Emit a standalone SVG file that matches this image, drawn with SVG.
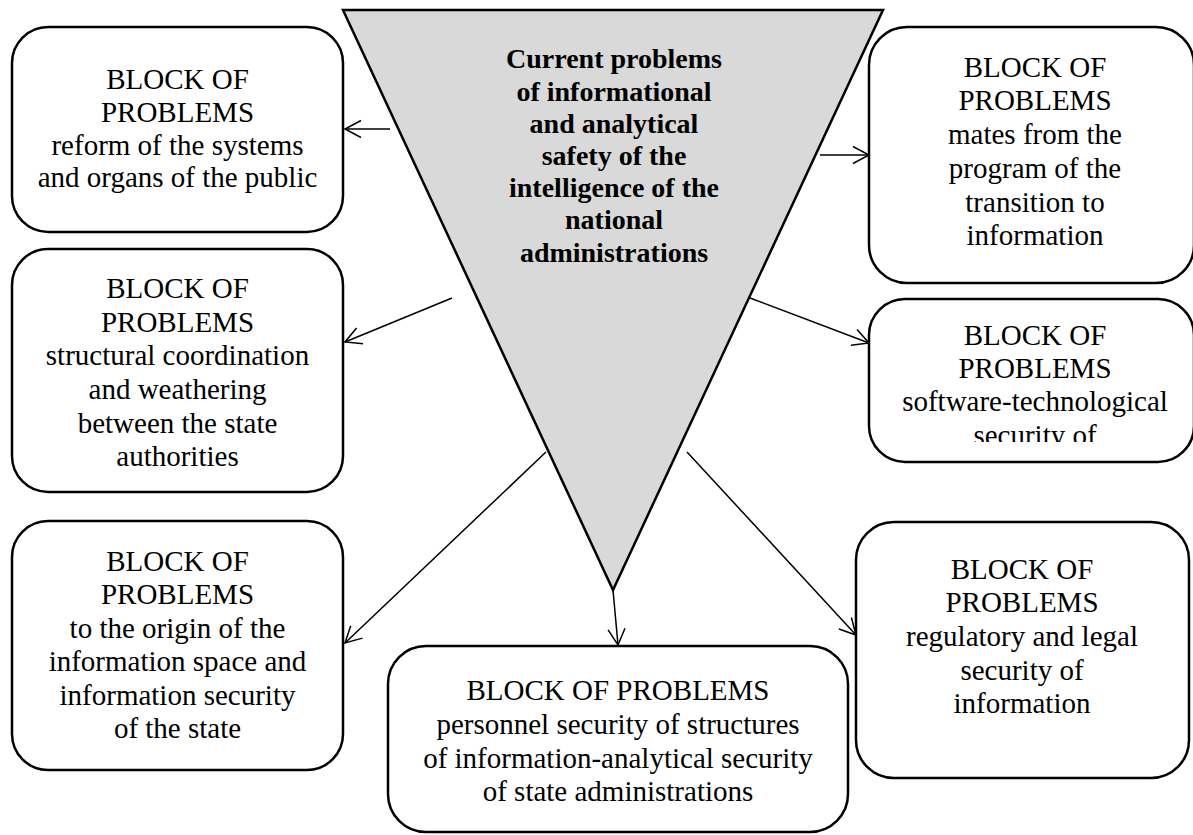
<svg xmlns="http://www.w3.org/2000/svg" width="1193" height="835" viewBox="0 0 1193 835">
  <style>
    .box { fill: #ffffff; stroke: #000000; stroke-width: 2.5; }
    .tri { fill: #d9d9d9; stroke: #000000; stroke-width: 2.5; stroke-linejoin: miter; }
    .t { font-family: "Liberation Serif", "Times New Roman", serif; font-size: 29px; fill: #000000; text-anchor: middle; }
    .tb { font-family: "Liberation Serif", "Times New Roman", serif; font-size: 28px; font-weight: bold; fill: #000000; text-anchor: middle; }
    .conn line { stroke: #000000; stroke-width: 1.5; fill: none; marker-end: url(#arr); }
  </style>
  <defs>
    <marker id="arr" markerWidth="20" markerHeight="20" refX="17" refY="10" orient="auto" markerUnits="userSpaceOnUse">
      <path d="M1,1.5 L17,10 L1,18.5" fill="none" stroke="#000000" stroke-width="1.5"/>
    </marker>
    <clipPath id="clipMR">
      <rect x="869" y="299" width="330" height="143"/>
    </clipPath>
  </defs>
  <rect width="1193" height="835" fill="#ffffff"/>

  <g id="center">
    <polygon class="tri" points="343,10 883,10 613,590"/>
    <text class="tb" x="614" y="68">Current problems</text>
    <text class="tb" x="614" y="101">of informational</text>
    <text class="tb" x="614" y="133">and analytical</text>
    <text class="tb" x="614" y="165">safety of the</text>
    <text class="tb" x="614" y="197">intelligence of the</text>
    <text class="tb" x="614" y="229">national</text>
    <text class="tb" x="614" y="262">administrations</text>
  </g>

  <g id="conn" class="conn">
    <line x1="390" y1="129" x2="345" y2="129"/>
    <line x1="820" y1="155" x2="869" y2="155"/>
    <line x1="452" y1="298" x2="345" y2="342"/>
    <line x1="750" y1="298" x2="869" y2="343"/>
    <line x1="546" y1="452" x2="345" y2="643"/>
    <line x1="687" y1="452" x2="856" y2="635"/>
    <line x1="613" y1="590" x2="618" y2="645"/>
  </g>

  <g id="box-reform">
    <rect class="box" x="12" y="27" width="331" height="205" rx="36" ry="36"/>
    <text class="t" x="177.5" y="89">BLOCK OF</text>
    <text class="t" x="177.5" y="122">PROBLEMS</text>
    <text class="t" x="177.5" y="155">reform of the systems</text>
    <text class="t" x="177.5" y="187">and organs of the public</text>
  </g>

  <g id="box-structural">
    <rect class="box" x="12" y="249" width="331" height="243" rx="36" ry="36"/>
    <text class="t" x="177.5" y="298">BLOCK OF</text>
    <text class="t" x="177.5" y="332">PROBLEMS</text>
    <text class="t" x="177.5" y="365">structural coordination</text>
    <text class="t" x="177.5" y="399">and weathering</text>
    <text class="t" x="177.5" y="433">between the state</text>
    <text class="t" x="177.5" y="466">authorities</text>
  </g>

  <g id="box-origin">
    <rect class="box" x="12" y="521" width="331" height="249" rx="36" ry="36"/>
    <text class="t" x="177.5" y="571">BLOCK OF</text>
    <text class="t" x="177.5" y="604">PROBLEMS</text>
    <text class="t" x="177.5" y="638">to the origin of the</text>
    <text class="t" x="177.5" y="671">information space and</text>
    <text class="t" x="177.5" y="705">information security</text>
    <text class="t" x="177.5" y="738">of the state</text>
  </g>

  <g id="box-transition">
    <rect class="box" x="869" y="27" width="325" height="256" rx="38" ry="38"/>
    <text class="t" x="1035" y="77">BLOCK OF</text>
    <text class="t" x="1035" y="110">PROBLEMS</text>
    <text class="t" x="1035" y="144">mates from the</text>
    <text class="t" x="1035" y="178">program of the</text>
    <text class="t" x="1035" y="212">transition to</text>
    <text class="t" x="1035" y="245">information</text>
  </g>

  <g id="box-software">
    <rect class="box" x="869" y="299" width="325" height="163" rx="36" ry="36"/>
    <g clip-path="url(#clipMR)">
      <text class="t" x="1035" y="345">BLOCK OF</text>
      <text class="t" x="1035" y="378">PROBLEMS</text>
      <text class="t" x="1035" y="411">software-technological</text>
      <text class="t" x="1035" y="445">security of</text>
    </g>
  </g>

  <g id="box-regulatory">
    <rect class="box" x="856" y="522" width="333" height="256" rx="38" ry="38"/>
    <text class="t" x="1022" y="579">BLOCK OF</text>
    <text class="t" x="1022" y="612">PROBLEMS</text>
    <text class="t" x="1022" y="646">regulatory and legal</text>
    <text class="t" x="1022" y="680">security of</text>
    <text class="t" x="1022" y="713">information</text>
  </g>

  <g id="box-personnel">
    <rect class="box" x="388" y="646" width="460" height="186" rx="38" ry="38"/>
    <text class="t" x="618" y="700">BLOCK OF PROBLEMS</text>
    <text class="t" x="618" y="734">personnel security of structures</text>
    <text class="t" x="618" y="768">of information-analytical security</text>
    <text class="t" x="618" y="801">of state administrations</text>
  </g>
</svg>
